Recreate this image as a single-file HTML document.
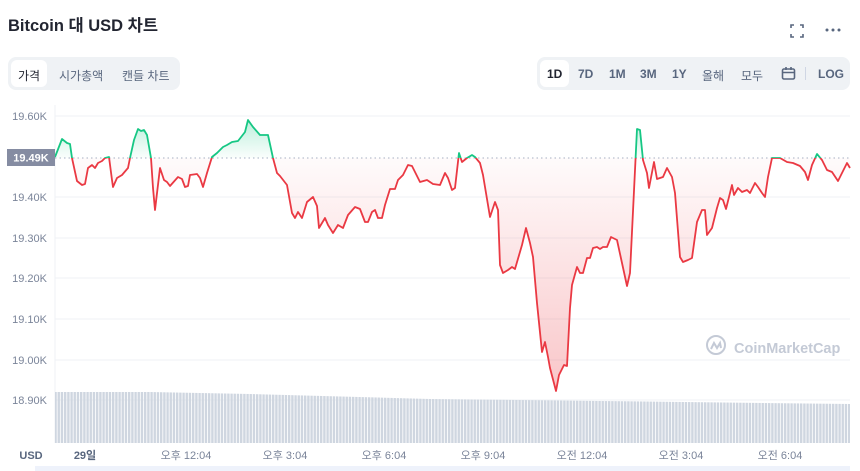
<!DOCTYPE html>
<html><head><meta charset="utf-8"><style>
body{margin:0;width:860px;height:471px;background:#fff;font-family:"Liberation Sans","Noto Sans CJK KR",sans-serif;overflow:hidden;position:relative}
.t{position:absolute;white-space:nowrap}
.grp{position:absolute;background:#eff2f5;border-radius:8px}
.btn{position:absolute;font-size:12px;color:#58667e;top:10px}
</style></head><body>
<div class="t" style="left:8px;top:12px;font-size:16.5px;font-weight:bold;color:#222531">Bitcoin 대 USD 차트</div>
<svg style="position:absolute;left:789px;top:23px" width="16" height="16" viewBox="0 0 16 16" fill="none" stroke="#58667e" stroke-width="1.6"><path d="M2 5V2h3M11 2h3v3M14 11v3h-3M5 14H2v-3"/></svg>
<svg style="position:absolute;left:824px;top:27px" width="18" height="6"><circle cx="3" cy="3" r="1.5" fill="#58667e"/><circle cx="9" cy="3" r="1.5" fill="#58667e"/><circle cx="15" cy="3" r="1.5" fill="#58667e"/></svg>

<div class="grp" style="left:8px;top:57px;width:172px;height:33px">
 <div style="position:absolute;left:3px;top:3px;width:36px;height:27px;background:#fff;border-radius:6px"></div>
 <div class="btn" style="left:10px;color:#222531">가격</div>
 <div class="btn" style="left:51px">시가총액</div>
 <div class="btn" style="left:114px">캔들 차트</div>
</div>
<div class="grp" style="left:537px;top:57px;width:313px;height:33px;font-weight:bold">
 <div style="position:absolute;left:3px;top:3px;width:29px;height:27px;background:#fff;border-radius:6px"></div>
 <div class="btn" style="left:10px;color:#222531">1D</div>
 <div class="btn" style="left:41px">7D</div>
 <div class="btn" style="left:72px">1M</div>
 <div class="btn" style="left:103px">3M</div>
 <div class="btn" style="left:135px">1Y</div>
 <div class="btn" style="left:165px;font-weight:normal">올해</div>
 <div class="btn" style="left:204px;font-weight:normal">모두</div>
 <svg style="position:absolute;left:244px;top:9px" width="15" height="15" viewBox="0 0 15 15" fill="none" stroke="#58667e" stroke-width="1.6"><rect x="1.5" y="3" width="12" height="10" rx="1.5"/><path d="M1.5 6.5h12M5 1v3M10 1v3"/></svg>
 <div style="position:absolute;left:268px;top:10px;width:1px;height:13px;background:#cfd6e4"></div>
 <div class="btn" style="left:281px">LOG</div>
</div>

<svg style="position:absolute;left:0;top:0" width="860" height="471">
<defs>
<linearGradient id="gr" x1="0" y1="158" x2="0" y2="400" gradientUnits="userSpaceOnUse"><stop offset="0" stop-color="#ea3943" stop-opacity="0.02"/><stop offset="1" stop-color="#ea3943" stop-opacity="0.3"/></linearGradient>
<linearGradient id="gg" x1="0" y1="118" x2="0" y2="158" gradientUnits="userSpaceOnUse"><stop offset="0" stop-color="#16c784" stop-opacity="0.3"/><stop offset="1" stop-color="#16c784" stop-opacity="0.02"/></linearGradient>
<clipPath id="ca"><rect x="0" y="0" width="860" height="158"/></clipPath>
<clipPath id="cb"><rect x="0" y="158" width="860" height="300"/></clipPath>
<pattern id="vp" width="3.2" height="10" patternUnits="userSpaceOnUse"><rect x="0" y="0" width="2.4" height="10" fill="#cfd6e0"/></pattern>
</defs>
<g stroke="#eff2f5" stroke-width="1">
<line x1="55" x2="850" y1="116" y2="116"/><line x1="55" x2="850" y1="197" y2="197"/><line x1="55" x2="850" y1="238" y2="238"/><line x1="55" x2="850" y1="278" y2="278"/><line x1="55" x2="850" y1="319" y2="319"/><line x1="55" x2="850" y1="360" y2="360"/><line x1="55" x2="850" y1="400" y2="400"/>
<line x1="55" x2="55" y1="105" y2="443"/>
</g>
<polygon fill="url(#vp)" points="55,392 150,392 250,394 430,399 600,401 850,404 850,443 55,443"/>
<line x1="55" x2="850" y1="158" y2="158" stroke="#a6b0c3" stroke-dasharray="1.5 3"/>
<g id="L"></g>
<g font-size="11" fill="#7a8499" text-anchor="end">
<text x="47" y="120">19.60K</text><text x="47" y="201">19.40K</text><text x="47" y="242">19.30K</text><text x="47" y="282">19.20K</text><text x="47" y="323">19.10K</text><text x="47" y="364">19.00K</text><text x="47" y="404">18.90K</text>
</g>
<rect x="7" y="149" width="48" height="17" fill="#858ca2"/>
<text x="31" y="161.5" font-size="11" font-weight="bold" fill="#fff" text-anchor="middle">19.49K</text>
<g font-size="11" fill="#7a8499" text-anchor="middle">
<text x="31" y="459" font-weight="bold" fill="#58667e">USD</text>
<text x="85" y="459" font-weight="bold" fill="#58667e">29일</text>
<text x="186" y="459">오후 12:04</text><text x="285" y="459">오후 3:04</text><text x="384" y="459">오후 6:04</text><text x="483" y="459">오후 9:04</text><text x="582" y="459">오전 12:04</text><text x="681" y="459">오전 3:04</text><text x="780" y="459">오전 6:04</text>
</g>
<rect x="35" y="466" width="815" height="5" fill="#eef2fb"/>
<g transform="translate(707,336)" fill="none" stroke="#c4cad6" stroke-width="2"><circle cx="9" cy="9" r="9"/><path d="M4 13l3-6 3 5 3-5 1 5"/></g>
<text x="734" y="353" font-size="14.5" font-weight="bold" fill="#c4cad6">CoinMarketCap</text>
</svg>
<script>
var P=[[55,157],[62,139],[67,143],[70,144],[72,158],[77,181],[82,185],[85,184],[88,168],[92,165],[95,168],[98,163],[102,161],[105,158],[109,157],[112,180],[113,187],[117,178],[122,175],[128,168],[130,158],[134,140],[138,129],[141,131],[144,130],[147,135],[151,158],[153,188],[155,210],[160,168],[164,180],[167,182],[170,186],[178,177],[182,179],[185,187],[188,186],[190,175],[197,174],[200,178],[203,187],[207,173],[212,157],[217,153],[223,147],[227,145],[232,142],[238,141],[245,132],[248,120],[253,127],[260,135],[268,135],[273,158],[277,173],[280,176],[287,185],[292,213],[295,218],[298,212],[302,218],[307,202],[313,197],[317,206],[319,228],[325,218],[328,225],[333,233],[338,225],[343,228],[348,215],[355,207],[360,209],[365,222],[368,222],[372,212],[375,210],[378,218],[382,218],[385,205],[390,189],[395,189],[398,180],[403,175],[408,165],[412,166],[420,182],[427,180],[433,184],[440,185],[445,173],[448,178],[452,190],[455,188],[459,153],[462,162],[467,158],[472,155],[475,157],[480,163],[483,175],[490,217],[495,202],[498,210],[500,265],[503,273],[508,270],[512,267],[515,269],[522,245],[526,228],[530,243],[533,257],[537,303],[542,352],[545,342],[548,357],[550,368],[556,391],[559,375],[564,365],[567,366],[570,308],[572,285],[577,267],[580,273],[583,273],[587,258],[590,258],[593,248],[597,247],[600,249],[603,247],[607,247],[611,237],[617,240],[622,263],[627,286],[630,273],[637,129],[640,130],[643,160],[647,173],[649,188],[654,162],[657,179],[663,177],[667,168],[672,177],[675,193],[680,257],[683,262],[688,260],[692,258],[697,222],[702,210],[705,210],[707,235],[712,228],[717,208],[720,198],[723,200],[726,209],[732,185],[734,195],[738,188],[742,192],[747,190],[750,193],[755,183],[758,187],[762,193],[765,197],[768,177],[772,158],[777,158],[780,158],[787,162],[793,163],[800,166],[805,172],[808,180],[812,165],[817,154],[822,160],[827,170],[832,172],[838,181],[847,163],[850,168]];
var s=P.map(function(p){return p.join(',')}).join(' ');
var ns='http://www.w3.org/2000/svg',g=document.getElementById('L');
function mk(tag,a){var e=document.createElementNS(ns,tag);for(var k in a)e.setAttribute(k,a[k]);g.appendChild(e);return e}
var fp=s+' 850,158 55,158';
mk('polygon',{points:fp,fill:'url(#gg)','clip-path':'url(#ca)'});
mk('polygon',{points:fp,fill:'url(#gr)','clip-path':'url(#cb)'});
mk('polyline',{points:s,fill:'none',stroke:'#16c784','stroke-width':1.8,'stroke-linejoin':'round','clip-path':'url(#ca)'});
mk('polyline',{points:s,fill:'none',stroke:'#ea3943','stroke-width':1.8,'stroke-linejoin':'round','clip-path':'url(#cb)'});
</script>
</body></html>
